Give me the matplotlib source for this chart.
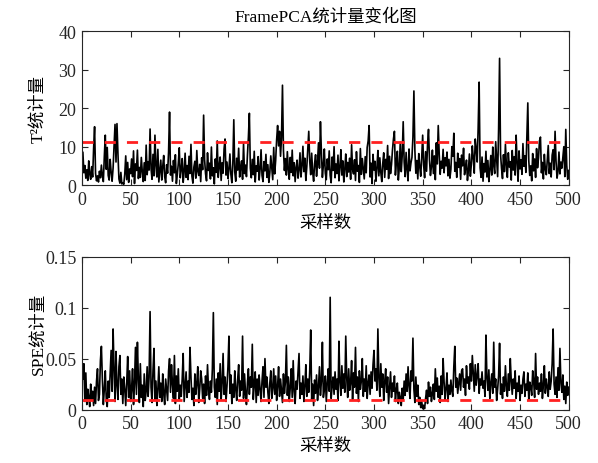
import numpy as np
import matplotlib
matplotlib.use("Agg")
import matplotlib.pyplot as plt

plt.rcParams['font.family'] = ['Liberation Serif', 'Noto Sans CJK SC']
plt.rcParams['font.size'] = 12

# T^2 statistic per sample
t2 = [
    8.5, 3.2, 5.1, 1.8, 4.0, 1.2, 6.3, 2.9, 1.5, 4.8,
    2.1, 9.5, 15.2, 3.0, 1.1, 2.4, 0.8, 3.6, 1.9, 5.2,
    2.3, 0.9, 7.4, 13.0, 4.1, 9.8, 2.5, 1.3, 6.7, 3.4,
    1.0, 4.4, 10.2, 15.8, 6.0, 16.0, 8.2, 1.6, 0.5, 3.3,
    0.3, 0.6, 0.2, 2.8, 7.6, 1.4, 5.9, 0.7, 4.2, 3.0,
    6.8, 2.2, 8.9, 0.4, 5.5, 3.8, 9.1, 1.7, 4.6, 2.0,
    7.2, 3.5, 0.9, 5.8, 1.2, 10.4, 2.7, 6.1, 3.9, 14.6,
    4.3, 1.5, 8.0, 2.4, 13.0, 5.0, 2.1, 9.3, 0.8, 3.7,
    6.5, 1.3, 4.8, 7.7, 2.2, 0.6, 5.3, 3.1, 8.6, 19.0,
    2.6, 4.9, 1.0, 6.4, 3.2, 7.9, 0.4, 2.8, 5.6, 9.7,
    1.9, 4.1, 6.9, 0.7, 3.5, 8.3, 2.0, 5.1, 1.4, 7.5,
    3.0, 10.6, 2.3, 0.5, 4.7, 6.2, 1.8, 9.0, 3.6, 2.5,
    5.4, 0.9, 7.1, 4.0, 18.2, 6.6, 2.9, 1.1, 8.4, 3.8,
    5.7, 1.6, 9.9, 2.4, 4.5, 0.3, 6.8, 3.3, 11.5, 2.0,
    4.9, 7.3, 1.2, 5.8, 3.1, 9.4, 12.0, 2.6, 6.0, 1.7,
    4.2, 8.1, 2.8, 0.6, 5.5, 17.0, 3.4, 1.0, 7.0, 3.9,
    9.6, 2.1, 4.6, 6.3, 1.5, 10.8, 3.0, 5.2, 2.2, 7.8,
    12.5, 18.7, 4.4, 1.9, 6.7, 2.7, 8.8, 0.8, 5.0, 3.6,
    7.4, 1.3, 4.1, 9.2, 2.5, 0.9, 6.1, 3.7, 8.0, 2.0,
    5.3, 0.7, 3.2, 7.6, 4.5, 1.4, 9.8, 2.9, 6.4, 11.8,
    15.5, 10.2, 14.0, 7.5, 12.3, 26.0, 9.0, 3.8, 6.9, 2.6,
    8.7, 4.0, 1.5, 7.2, 3.3, 9.1, 2.4, 5.8, 0.9, 4.6,
    6.5, 1.8, 3.9, 8.4, 2.1, 5.0, 10.1, 3.5, 7.0, 1.2,
    4.8, 9.6, 14.0, 6.2, 2.7, 8.3, 3.4, 1.0, 5.6, 7.9,
    2.3, 6.0, 11.0, 4.4, 16.5, 8.5, 2.0, 5.2, 9.4, 3.1,
    1.4, 6.8, 4.0, 8.9, 2.5, 0.6, 7.3, 3.8, 10.0, 1.9,
    5.5, 3.0, 7.8, 1.1, 4.7, 9.2, 2.6, 6.3, 0.8, 4.2,
    8.1, 2.2, 5.9, 3.4, 7.0, 1.5, 10.5, 4.0, 2.9, 6.6,
    1.2, 8.7, 3.6, 5.1, 0.7, 9.5, 2.8, 6.9, 4.3, 1.6,
    7.4, 3.2, 9.8, 11.5, 15.5, 2.1, 5.7, 0.4, 8.0, 3.9,
    6.2, 1.0, 4.5, 9.0, 2.4, 7.1, 3.3, 0.9, 5.6, 8.4,
    2.0, 6.7, 4.1, 10.3, 1.7, 7.5, 3.0, 5.4, 9.2, 12.0,
    14.0, 2.6, 6.1, 8.8, 1.3, 4.6, 11.2, 3.5, 7.7, 16.5,
    6.0, 2.2, 8.5, 4.0, 1.1, 9.4, 3.7, 5.8, 7.2, 12.5,
    24.5, 9.0, 3.1, 6.4, 1.6, 8.2, 4.9, 2.3, 7.0, 13.0,
    5.3, 1.9, 8.7, 3.6, 10.5, 14.5, 6.6, 2.5, 4.8, 9.1,
    3.0, 7.6, 1.4, 11.0, 5.5, 15.5, 8.0, 2.8, 6.2, 4.4,
    9.3, 3.2, 7.1, 5.0, 8.6, 2.4, 6.7, 1.8, 4.1, 10.0,
    7.5, 13.5, 3.6, 5.9, 2.0, 8.3, 4.6, 6.9, 1.5, 7.8,
    5.0, 9.6, 2.7, 4.3, 6.5, 1.2, 3.8, 8.1, 2.3, 5.4,
    10.2, 7.0, 3.1, 12.0, 9.4, 6.0, 14.8, 26.8, 4.5, 2.0,
    7.3, 1.0, 5.6, 3.4, 8.8, 2.1, 6.4, 0.9, 4.0, 7.7,
    2.6, 9.9, 5.1, 3.0, 11.3, 6.8, 2.2, 14.5, 33.0, 8.0,
    4.4, 1.7, 7.9, 3.5, 10.6, 5.2, 2.0, 8.4, 4.7, 6.1,
    1.3, 9.0, 3.9, 7.4, 2.6, 13.0, 5.8, 1.0, 8.9, 4.2,
    6.6, 2.8, 10.8, 4.9, 7.6, 3.3, 12.0, 21.4, 6.3, 2.5,
    5.0, 1.1, 8.2, 3.7, 6.8, 2.0, 9.5, 4.5, 7.1, 11.5,
    12.5, 3.2, 5.9, 1.6, 8.0, 4.1, 2.7, 6.5, 10.3, 3.0,
    5.7, 2.1, 7.8, 9.2, 4.0, 14.0, 6.2, 1.8, 3.5, 8.6,
    2.9, 6.0, 4.4, 7.3, 10.0, 2.2, 14.5, 5.1, 1.5, 3.8,
]

# SPE statistic per sample
spe = [
    .030, .045, .008, .036, .005, .020, .012, .003, .025, .010,
    .018, .004, .022, .006, .028, .040, .009, .015, .048, .062,
    .030, .005, .020, .038, .010, .003, .028, .012, .035, .058,
    .018, .079, .040, .008, .057, .024, .010, .042, .053, .015,
    .030, .006, .032, .020, .004, .026, .052, .012, .038, .008,
    .020, .040, .005, .025, .061, .015, .066, .030, .007, .045,
    .012, .024, .003, .035, .009, .018, .042, .013, .032, .096,
    .022, .007, .038, .060, .010, .028, .004, .020, .042, .012,
    .026, .008, .035, .016, .005, .030, .020, .009, .038, .050,
    .017, .044, .025, .011, .053, .006, .033, .018, .040, .010,
    .024, .013, .030, .055, .008, .022, .037, .012, .028, .017,
    .061, .032, .010, .021, .004, .035, .015, .026, .042, .007,
    .020, .038, .030, .011, .025, .006, .033, .014, .044, .020,
    .010, .028, .017, .040, .095, .022, .012, .030, .005, .036,
    .018, .045, .010, .026, .055, .015, .032, .008, .023, .042,
    .072, .016, .034, .006, .025, .012, .038, .020, .009, .030,
    .044, .013, .028, .019, .072, .011, .035, .017, .005, .026,
    .040, .015, .032, .022, .064, .010, .025, .037, .007, .030,
    .014, .034, .020, .008, .028, .042, .012, .050, .022, .032,
    .017, .006, .026, .038, .011, .021, .040, .015, .033, .009,
    .023, .042, .013, .030, .019, .007, .035, .016, .027, .063,
    .014, .032, .008, .022, .040, .012, .048, .018, .006, .028,
    .020, .037, .055, .011, .026, .015, .033, .008, .023, .044,
    .013, .030, .017, .038, .078, .010, .025, .004, .029, .016,
    .034, .009, .022, .042, .014, .028, .066, .012, .020, .033,
    .008, .026, .040, .018, .110, .011, .023, .032, .015, .037,
    .020, .030, .009, .067, .027, .014, .043, .021, .035, .017,
    .072, .031, .012, .040, .019, .026, .048, .010, .036, .022,
    .061, .016, .032, .008, .038, .020, .028, .050, .013, .030,
    .018, .043, .011, .026, .034, .015, .037, .021, .044, .058,
    .028, .040, .019, .079, .031, .013, .045, .022, .035, .009,
    .027, .040, .017, .032, .006, .022, .037, .012, .026, .018,
    .033, .008, .020, .026, .006, .017, .012, .004, .021, .010,
    .028, .014, .035, .018, .042, .023, .011, .038, .028, .070,
    .020, .007, .032, .013, .024, .005, .012, .002, .008, .001,
    .004, .001, .011, .019, .006, .027, .013, .022, .008, .016,
    .025, .010, .040, .018, .031, .012, .023, .007, .033, .015,
    .050, .027, .010, .021, .036, .008, .024, .015, .029, .018,
    .013, .042, .062, .022, .031, .016, .026, .035, .019, .038,
    .040, .022, .030, .014, .043, .026, .032, .020, .045, .028,
    .053, .035, .018, .044, .024, .033, .045, .016, .030, .024,
    .037, .021, .028, .013, .073, .031, .019, .039, .011, .026,
    .035, .016, .066, .022, .030, .009, .020, .033, .065, .015,
    .025, .011, .032, .018, .043, .023, .013, .035, .019, .050,
    .028, .015, .030, .021, .038, .011, .026, .018, .033, .009,
    .024, .016, .030, .037, .013, .025, .019, .036, .010, .027,
    .022, .014, .038, .028, .012, .055, .020, .032, .015, .026,
    .018, .035, .011, .024, .043, .016, .030, .022, .013, .037,
    .020, .028, .045, .079, .025, .015, .032, .012, .041, .019,
    .060, .026, .017, .034, .010, .023, .006, .027, .014, .022,
]

t2_limit = 11.3
spe_limit = 0.009
samples = np.arange(1, len(t2) + 1)

axis_color = '#262626'

fig = plt.figure(figsize=(5.98, 4.64), dpi=100)
ax1 = fig.add_axes([0.137, 0.599, 0.814, 0.331])
ax2 = fig.add_axes([0.137, 0.115, 0.814, 0.330])


def style(ax, ylim, yticks, yticklabels):
    ax.set_xlim(0, 500)
    ax.set_ylim(*ylim)
    ax.set_xticks(range(0, 501, 50))
    ax.set_yticks(yticks)
    ax.set_yticklabels(yticklabels)
    ax.tick_params(direction='in', top=True, right=True, length=4,
                   width=0.8, colors=axis_color, labelsize=13, pad=4)
    for sp in ax.spines.values():
        sp.set_color(axis_color)
        sp.set_linewidth(0.8)
    ax.yaxis.set_label_coords(-0.072, 0.5)


ax1.plot(samples, t2, color='black', lw=1.2)
ax1.axhline(t2_limit, color='#ff2020', lw=2, linestyle=(0, (4, 4)))
style(ax1, (0, 40), [0, 10, 20, 30, 40], ['0', '10', '20', '30', '40'])
ax1.set_title('FramePCA统计量变化图', fontsize=12.5, pad=8)
ax1.set_ylabel('T²统计量', fontsize=12.5)
ax1.set_xlabel('采样数', fontsize=12.5, labelpad=5)

ax2.plot(samples, spe, color='black', lw=1.2)
ax2.axhline(spe_limit, color='#ff2020', lw=2, linestyle=(0, (4, 4)))
style(ax2, (0, 0.15), [0, 0.05, 0.1, 0.15], ['0', '0.05', '0.1', '0.15'])
ax2.set_ylabel('SPE统计量', fontsize=12.5)
ax2.set_xlabel('采样数', fontsize=12.5, labelpad=4)

fig.savefig('out.png', dpi=100)
